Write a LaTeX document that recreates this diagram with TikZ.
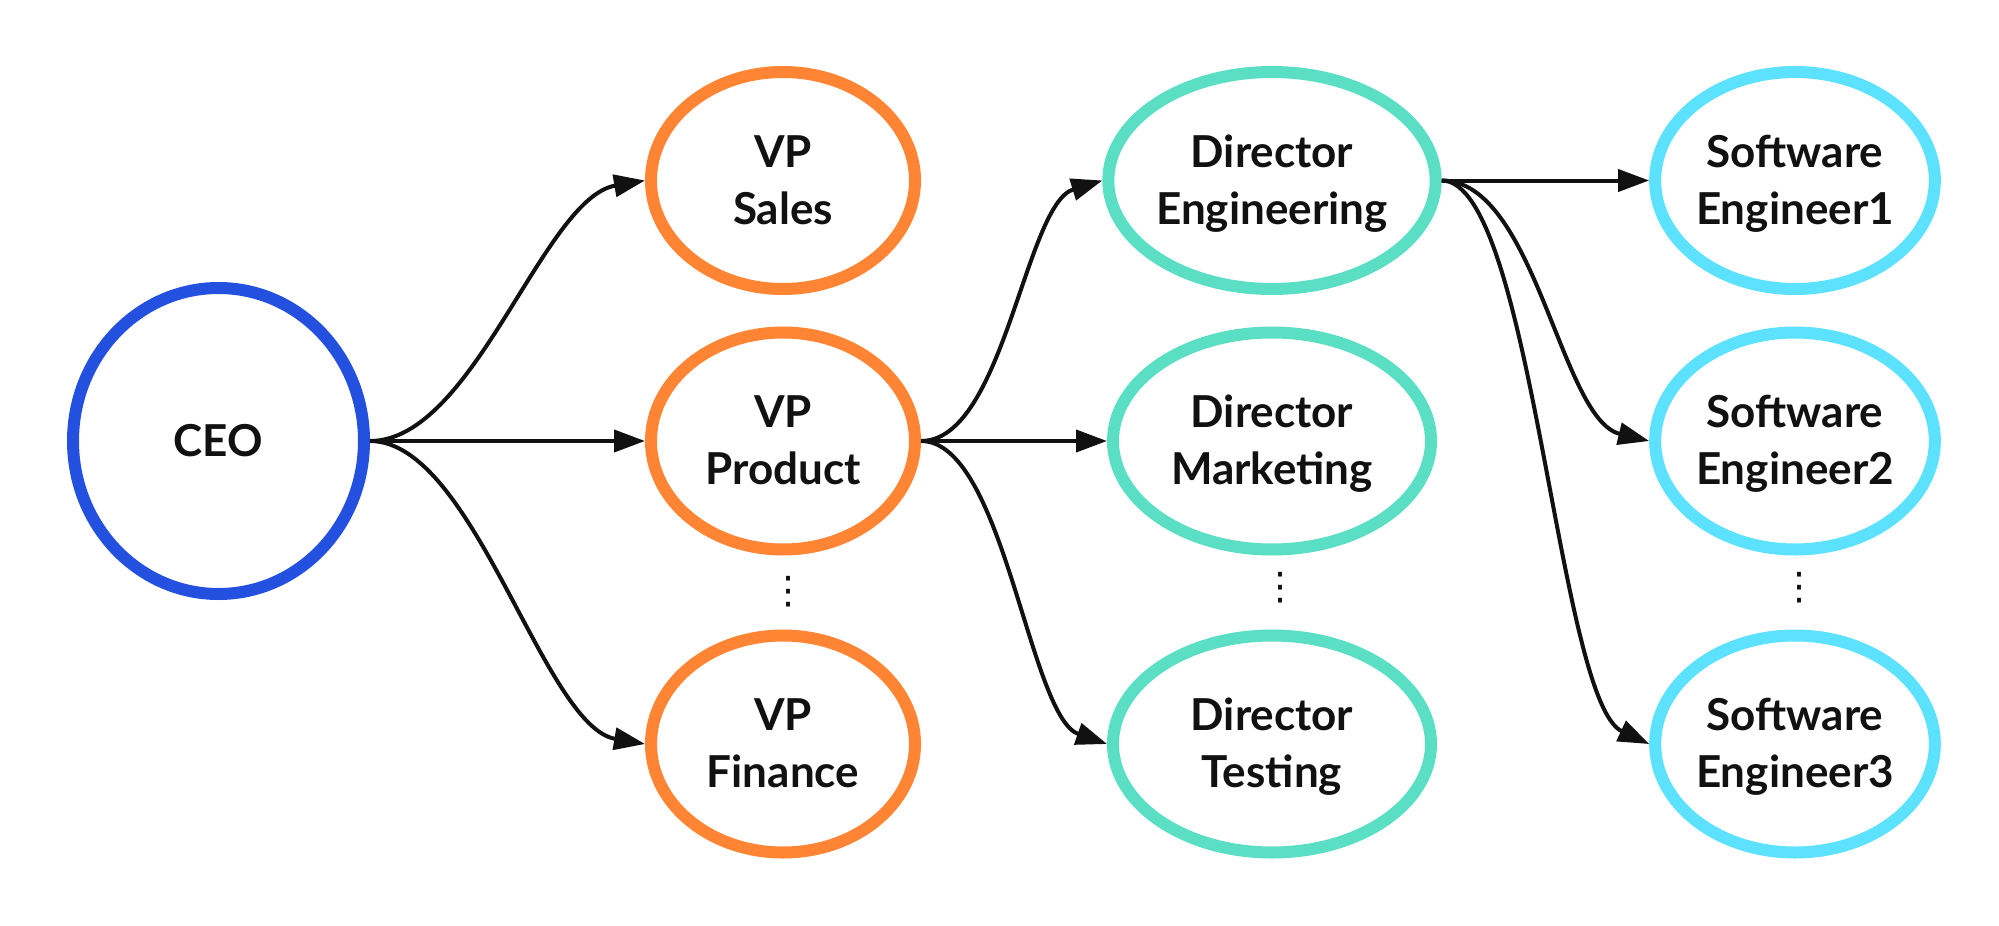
\documentclass[tikz,border=0pt]{standalone}
\usepackage{fontspec}
\setmainfont{Lato}
\newfontfamily\dotsfont{DejaVu Sans}
\usetikzlibrary{arrows.meta,shapes.geometric}
\definecolor{ceoblue}{HTML}{2450E0}
\definecolor{vporange}{HTML}{FF8534}
\definecolor{dirteal}{HTML}{5ADFC4}
\definecolor{swcyan}{HTML}{5CE1FF}
\definecolor{ink}{HTML}{111111}
\newcommand{\twoline}[2]{\begin{tabular}{@{}c@{}}\rule{0pt}{23.55pt}#1\\#2\end{tabular}}
\begin{document}
\begin{tikzpicture}[x=0.5pt,y=-0.5pt,
  person/.style={ellipse, line width=6pt, inner sep=0pt, fill=white, text=ink,
    font=\fontsize{22}{28.5}\selectfont\bfseries},
  ceonode/.style={person, draw=ceoblue, minimum width=145.5pt, minimum height=153pt},
  vpnode/.style={person, draw=vporange, minimum width=132pt, minimum height=108.5pt},
  dirnode/.style={person, draw=dirteal, minimum width=159pt, minimum height=108.5pt},
  swnode/.style={person, draw=swcyan, minimum width=132pt, minimum height=108.5pt},
  link/.style={line width=2pt, draw=ink, -{Triangle[length=15.5pt,width=11pt]}},
  more/.style={inner sep=0pt, text=ink, font=\dotsfont\fontsize{19}{19}\selectfont}]
\useasboundingbox (0,0) rectangle (1999,926);
% nodes
\node[ceonode] (ceo) at (218.5,441) {CEO};
\node[vpnode] (vps) at (783,180.5) {\twoline{VP}{Sales}};
\node[vpnode] (vpp) at (783,441) {\twoline{VP}{Product}};
\node[vpnode] (vpf) at (783,744) {\twoline{VP}{Finance}};
\node[dirnode] (dre) at (1272,180.5) {\twoline{Director}{Engineering}};
\node[dirnode] (drm) at (1272,441) {\twoline{Director}{Marketing}};
\node[dirnode] (drt) at (1272,744) {\twoline{Director}{Testing}};
\node[swnode] (se1) at (1795,180.5) {\twoline{Software}{Engineer1}};
\node[swnode] (se2) at (1795,441) {\twoline{Software}{Engineer2}};
\node[swnode] (se3) at (1795,744) {\twoline{Software}{Engineer3}};
\node[more] (vpmore) at (788,592) {⋮};
\node[more] (drmore) at (1280,588) {⋮};
\node[more] (swmore) at (1799,588) {⋮};
% connectors
\draw[link] (ceo.east) .. controls +(104,0) and +(-102,17.5) .. (vps.west);
\draw[link] (ceo.east) -- (vpp.west);
\draw[link] (ceo.east) .. controls +(104,0) and +(-102,-17.5) .. (vpf.west);
\draw[link] (vpp.east) .. controls +(83,0) and +(-77.4,23.6) .. (dre.west);
\draw[link] (vpp.east) -- (drm.west);
\draw[link] (vpp.east) .. controls +(83,0) and +(-78,-27) .. (drt.west);
\draw[link] (dre.east) -- (se1.west);
\draw[link] (dre.east) .. controls +(94,0) and +(-89,-21.5) .. (se2.west);
\draw[link] (dre.east) .. controls +(90,0) and +(-91.4,-42.6) .. (se3.west);
\end{tikzpicture}
\end{document}
